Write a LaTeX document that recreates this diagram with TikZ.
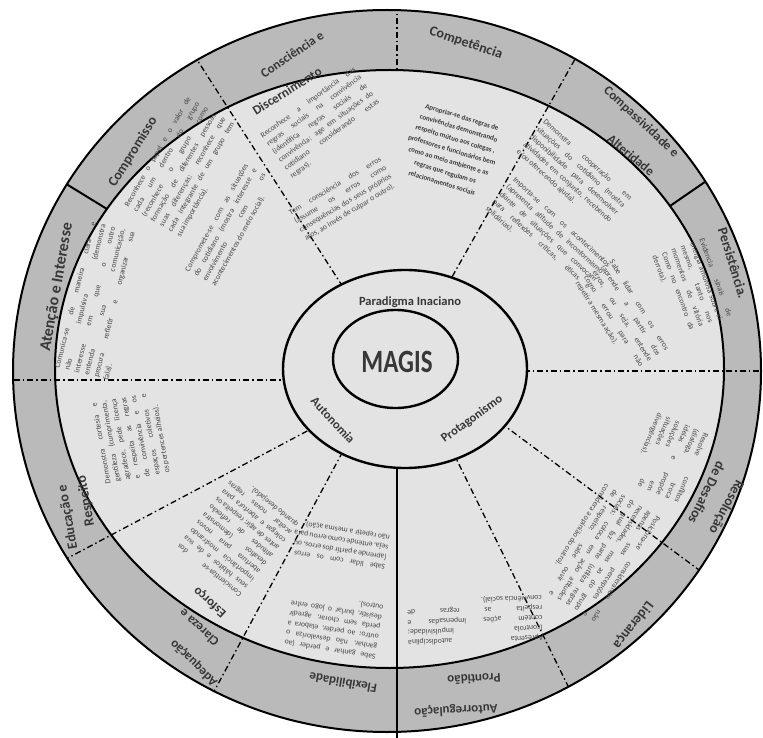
\documentclass[tikz,border=0pt]{standalone}
\usepackage{fontspec}
\usepackage{graphicx}
\setmainfont{Carlito}
\definecolor{ringgray}{RGB}{186,186,186}
\definecolor{diskgray}{RGB}{227,227,227}
\definecolor{labelgray}{RGB}{55,55,55}
\definecolor{txtgray}{RGB}{72,72,72}
\newcommand\jl[2]{\makebox[#1pt][s]{#2}}
\begin{document}
\begin{tikzpicture}[x=1pt,y=-1pt,
  ringlabel/.style={font=\bfseries\fontsize{14}{16}\selectfont, text=labelgray, inner sep=0pt},
  smallring/.style={font=\bfseries\fontsize{13}{15}\selectfont},
  centrelabel/.style={font=\bfseries\fontsize{12.5}{14}\selectfont, text=labelgray, inner sep=0pt},
  blk/.style={font=\fontsize{7.8}{10}\selectfont, text=txtgray, align=left, inner sep=0pt},
  ddline/.style={line width=1.3pt, dash pattern=on 6pt off 3pt on 1.5pt off 3pt},
  solidsep/.style={line width=2pt},
  rim/.style={line width=2pt}]
\useasboundingbox (0,0) rectangle (763,738);
% ring and disk
\fill[ringgray] (387,371) ellipse [x radius=374, y radius=361];
\fill[diskgray] (389.5,369) ellipse [x radius=334.5, y radius=299];
% named points of the separators
\coordinate (l1a) at (350,298); \coordinate (l1b) at (185,41);
\coordinate (l2a) at (439,300); \coordinate (l2b) at (583,45);
\coordinate (l4a) at (343,412); \coordinate (l4b) at (0,594);
\coordinate (l5a) at (349,440); \coordinate (l5b) at (188,740);
\coordinate (l6a) at (490,415); \coordinate (l6b) at (780,630);
\coordinate (l7a) at (447,440); \coordinate (l7b) at (597,745);
\coordinate (hla) at (0,380); \coordinate (hlb) at (300,380);
\coordinate (hra) at (510,371); \coordinate (hrb) at (770,371);
\coordinate (tva) at (397,5); \coordinate (tvb) at (397,70);
\coordinate (saa) at (107,209); \coordinate (sab) at (50,174);
\coordinate (sba) at (670,206); \coordinate (sbb) at (715,175);
\coordinate (vsa) at (397,460); \coordinate (vsb) at (397,738);
\begin{scope}
  \clip (387,371) ellipse [x radius=374, y radius=361];
  \draw[ddline] (l1a) -- (l1b);
  \draw[ddline] (l2a) -- (l2b);
  \draw[ddline] (l4a) -- (l4b);
  \draw[ddline] (l5a) -- (l5b);
  \draw[ddline] (l6a) -- (l6b);
  \draw[ddline] (l7a) -- (l7b);
  \draw[ddline] (hla) -- (hlb);
  \draw[ddline] (hra) -- (hrb);
  \draw[ddline] (tva) -- (tvb);
  \draw[solidsep] (saa) -- (sab);
  \draw[solidsep] (sba) -- (sbb);
\end{scope}
\draw[line width=2.2pt] (vsa) -- (vsb);
\draw[rim] (387,371) ellipse [x radius=374, y radius=361];
\draw[rim] (389.5,369) ellipse [x radius=334.5, y radius=299];
% centre
\draw[line width=2.4pt, fill=diskgray] (405,369) ellipse [x radius=122, y radius=99];
\draw[line width=2.4pt, fill=diskgray] (395.5,359) ellipse [x radius=62.5, y radius=49];
\node[font=\bfseries\fontsize{25}{28}\selectfont, text=labelgray] (magis) at (397,362) {\scalebox{1}[1.3]{MAGIS}};
\node[centrelabel] (parad) at (410,302) {Paradigma Inaciano};
\node[centrelabel, rotate=-47] (auton) at (333,420) {Autonomia};
\node[centrelabel, rotate=36] (protag) at (472,419) {Protagonismo};
% ring labels
\node[ringlabel, rotate=58] (r1) at (133,152) {Compromisso};
\node[ringlabel, rotate=80, font=\bfseries\fontsize{16}{18}\selectfont] (r2) at (57,287) {Atenção e Interesse};
\node[ringlabel, smallring, rotate=34] (r3) at (292,54) {Consciência e};
\node[ringlabel, smallring, rotate=32] (r4) at (287,91) {Discernimento};
\node[ringlabel, rotate=-19] (r5) at (466,43) {Competência};
\node[ringlabel, smallring, rotate=-43] (r6) at (641,122) {Compassividade e};
\node[ringlabel, smallring, rotate=-40] (r7) at (631,155) {Alteridade};
\node[ringlabel, rotate=-73] (r8) at (733,263) {Persistência.};
\node[ringlabel, rotate=-118] (r9) at (726,507) {Resolução};
\node[ringlabel, rotate=-116] (r10) at (707,493) {de Desafios};
\node[ringlabel, rotate=-128] (r11) at (633,625) {Liderança};
\node[ringlabel, smallring, rotate=183] (r12) at (474,679) {Prontidão};
\node[ringlabel, smallring, rotate=183] (r13) at (456,710) {Autorregulação};
\node[ringlabel, smallring, rotate=170] (r14) at (343,683) {Flexibilidade};
\node[ringlabel, smallring, rotate=136] (r15) at (194,663) {Adequação};
\node[ringlabel, smallring, rotate=138] (r16) at (199,628) {Clareza e};
\node[ringlabel, smallring, rotate=138] (r17) at (210,602) {Esforço};
\node[ringlabel, rotate=100] (r18) at (68,517) {Educação e};
\node[ringlabel, rotate=100] (r19) at (86,501) {Respeito};
% sector texts
\node[blk, rotate=76] (tA) at (100,301) {\jl{150}{Comunica-se de maneira clara e}\\ \jl{150}{não impulsiva (demonstra}\\ \jl{150}{interesse em que o outro}\\ \jl{150}{entenda sua comunicação,}\\ \jl{150}{procura refletir e organizar sua}\\ fala).};
\node[blk, rotate=60] (tB) at (184,167) {\jl{125}{Reconhece o papel e o valor de}\\ \jl{125}{cada um dentro do grupo}\\ \jl{125}{(reconhece o grupo como}\\ \jl{125}{formação de diferentes pessoas,}\\ \jl{125}{suas diferenças; reconhece que}\\ \jl{125}{cada integrante de um grupo tem}\\ sua importância).};
\node[blk, rotate=61] (tC) at (230,225) {\jl{122}{Compromete-se com as situações}\\ \jl{122}{do cotidiano (mostra interesse e}\\ \jl{122}{envolvimento com os}\\ acontecimentos do meio social).};
\node[blk, rotate=36] (tD) at (323,123) {\jl{115}{Reconhece a importância das}\\ \jl{115}{regras sociais na convivência}\\ \jl{115}{(identifica regras sociais de}\\ \jl{115}{convivência; age em situações do}\\ \jl{115}{cotidiano considerando estas}\\ regras).};
\node[blk, rotate=31] (tE) at (343,199) {\jl{106}{Tem consciência dos erros}\\ \jl{106}{(assume os erros como}\\ \jl{106}{consequências dos seus próprios}\\ atos, ao invés de culpar o outro).};
\node[blk, rotate=-17, align=center, font=\bfseries\fontsize{7}{11.5}\selectfont, text=labelgray] (tF) at (452,150) {Apropriar-se das regras de\\ convivências demonstrando\\ respeito mútuo aos colegas ,\\ professores e funcionários bem\\ como ao meio ambiente e as\\ regras que regulam os\\ relacionamentos sociais};
\node[blk, rotate=-42] (tG) at (574,175) {\jl{116}{Demonstra cooperação em}\\ \jl{116}{situações do cotidiano (mostra}\\ \jl{116}{disponibilidade para desenvolver}\\ \jl{116}{atividades em conjunto, recebendo}\\ e/ou oferecendo ajuda).};
\node[blk, rotate=-42.5] (tH) at (548,237) {\jl{129}{Importa-se com os acontecimentos}\\ \jl{129}{(apresenta atitude de inconformismo}\\ \jl{129}{diante de situações que convocam}\\ \jl{129}{para reflexões críticas, éticas e}\\ solidárias).};
\node[blk, rotate=-58] (tI) at (622,316) {\jl{105}{Sabe lidar com os erros}\\ \jl{105}{(aprende a partir dos}\\ \jl{105}{erros, ou seja, entende}\\ \jl{105}{como errou para não}\\ repetir a mesma ação).};
\node[blk, rotate=-70] (tJ) at (692,286) {\jl{82}{Evidencia sinais de}\\ \jl{82}{energia amorosa sobre si}\\ \jl{82}{mesmo, tanto nos}\\ \jl{82}{momentos de vitória}\\ \jl{82}{Como no encontro da}\\ derrota).};
\node[blk, rotate=-113] (tK) at (668,458) {\jl{75}{Resolve conflitos}\\ \jl{75}{(dialoga, troca}\\ \jl{75}{ideias e propõe}\\ \jl{75}{soluções em}\\ \jl{75}{situações de}\\ divergências).};
\node[blk, rotate=-122] (tL) at (600,553) {\jl{123}{Posiciona-se considerando não}\\ \jl{123}{apenas suas percepções e}\\ \jl{123}{necessidades, mas as do grupo}\\ \jl{123}{do qual faz parte (utiliza regras}\\ \jl{123}{sociais; coloca em ação atitudes}\\ \jl{123}{de respeito; sabe ouvir e}\\ considera a opinião do outro).};
\node[blk, rotate=182] (tM) at (475,620) {\jl{135}{Apresenta autodisciplina}\\ \jl{135}{(controla impulsividade;}\\ \jl{135}{contém ações impensadas e}\\ \jl{135}{respeita as regras de}\\ convivência social).};
\node[blk, rotate=171] (tN) at (334,625) {\jl{92}{Sabe ganhar e perder (ao}\\ \jl{92}{ganhar, não desvaloriza o}\\ \jl{92}{outro; ao perder, elabora a}\\ \jl{92}{perda sem chorar, agredir}\\ \jl{92}{desistir, burlar o jogo entre}\\ outros).};
\node[blk, rotate=171] (tO) at (342,545) {\jl{92}{Sabe lidar com os erros}\\ \jl{92}{(aprende a partir dos erros, ou}\\ \jl{92}{seja, entende como errou para}\\ não repetir a mesma ação).};
\node[blk, rotate=141] (tP) at (238,535) {\jl{80}{Conscientiza-se dos}\\ \jl{80}{seus hábitos e de sua}\\ \jl{80}{importância mostrando}\\ \jl{80}{abertura para novos}\\ \jl{80}{desafios (demonstra}\\ \jl{80}{atitudes de reflexão}\\ \jl{80}{antes de agir; respeita os}\\ \jl{80}{colegas e abertura para}\\ \jl{80}{aceitar novas regras}\\ quando desejado).};
\node[blk, rotate=100] (tQ) at (131,438) {\jl{82}{Demonstra cortesia e}\\ \jl{82}{gentileza (cumprimenta,}\\ \jl{82}{agradece, pede licença}\\ \jl{82}{e respeita as regras}\\ \jl{82}{de convivência e os}\\ \jl{82}{espaços coletivos e}\\ os pertences alheios).};
\end{tikzpicture}
\end{document}
